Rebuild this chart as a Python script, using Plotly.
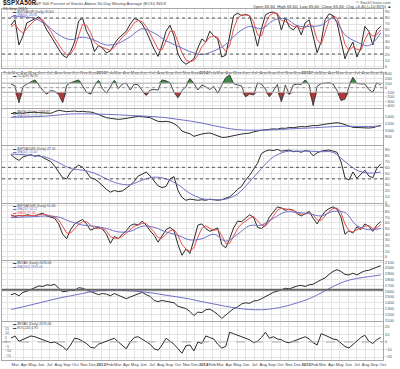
import plotly.graph_objects as go
import pandas as pd

# ---------------- data ----------------
N_POINTS = 94
DATES = pd.date_range("2012-02-15", "2015-09-24", periods=N_POINTS)
MA_DATES = DATES[::3]

# Panel 1: $SPXA50R with MAs
P1_BLACK = [68,77,35,50,72,75,78,82,
            74,60,50,38,28,18,14,24,40,75,
            80,58,46,24,34,30,22,25,37,46,
            52,58,70,79,77,70,58,42,28,16,
            35,58,68,50,20,8,3,7,12,30,
            45,40,58,50,45,15,18,50,84,88,
            84,86,84,60,33,62,85,89,90,86,
            60,80,65,60,68,52,72,77,50,22,
            40,77,87,84,72,42,12,28,40,15,
            30,66,58,35,60,66]
P1_RED = [65,70,60,55,62,70,76,79,
          77,68,58,46,36,26,19,20,30,52,
          70,68,56,40,34,31,28,26,31,40,
          48,54,62,72,76,74,66,54,40,28,
          27,42,58,58,40,22,10,7,9,18,
          32,40,48,50,48,34,24,34,62,80,
          85,85,84,74,52,50,70,84,88,88,
          76,74,70,66,65,62,64,70,66,44,
          36,56,76,84,80,62,36,26,32,28,
          26,44,56,50,52,60]
P1_BLUE = [82,82,79,68,52,44,48,43,35,38,49,62,55,42,33,24,19,25,36,55,66,62,76,79,67,66,68,80,52,40,34,55]

# Panel 2: CCI
P2_CCI = [80,40,-330,20,80,120,170,60,
          -60,-140,-60,-80,-150,-330,50,110,140,170,
          40,-100,-140,40,160,-20,-120,30,160,-20,
          80,100,-50,80,60,-60,-170,-50,-40,-50,
          170,150,110,-100,-220,-60,20,200,100,-50,
          60,20,-40,30,-120,50,220,280,90,60,
          40,-200,-140,-160,100,80,-30,-200,-60,70,
          -310,60,-150,60,80,70,170,60,-390,30,
          90,100,110,80,-60,-280,-250,20,230,90,
          80,80,-40,-100,110,60]

# Panel 3
P3_BLACK = [1510,1490,1520,1510,1530,1540,1545,1530,
            1520,1500,1510,1560,1600,1580,1560,1570,1580,1560,
            1570,1555,1550,1520,1470,1430,1380,1360,1340,1330,
            1340,1360,1380,1400,1420,1410,1390,1380,1320,1270,
            1260,1270,1250,1200,1120,980,930,900,820,860,
            890,910,920,880,830,790,790,820,850,880,
            890,905,915,955,985,1005,1015,1035,1045,1035,
            1065,1060,1085,1080,1100,1115,1105,1130,1145,1140,
            1170,1185,1200,1215,1230,1210,1180,1130,1090,1080,
            1070,1060,1070,1080,1110,1150]
P3_BLUE = [1390,1400,1410,1430,1460,1490,1495,1490,1480,1465,1445,1430,1410,1380,1330,1280,
           1220,1140,1070,1020,1005,1005,1015,1035,1055,1070,1090,1110,1125,1120,1115,1130]

# Panel 4
P4_BLACK = [82,76,72,78,80,82,79,81,
            77,74,70,62,52,42,40,52,58,64,
            60,52,42,40,35,28,22,17,20,18,
            19,24,29,36,45,48,52,45,37,28,
            25,27,40,44,20,8,3,5,4,3,
            4,3,5,4,3,4,6,9,15,22,
            27,38,46,56,67,84,88,90,89,91,
            88,89,90,87,88,86,89,88,80,85,
            88,89,90,88,86,70,42,38,52,41,
            48,55,45,42,58,66]
P4_BLUE = [83,82,80,77,68,58,55,50,40,32,30,38,43,40,30,15,6,4,5,14,35,58,78,87,88,88,87,86,70,55,50,52]

# Panel 5
P5_BLACK = [74,71,73,72,74,73,72,75,
            77,72,70,68,58,40,32,48,58,62,
            66,58,47,50,52,49,40,24,36,32,
            40,46,55,58,56,63,56,46,38,26,
            36,48,52,46,22,3,14,6,30,56,
            58,50,45,48,51,22,16,32,51,63,
            62,68,74,70,52,50,56,70,80,88,
            86,82,84,82,76,72,76,80,68,58,
            70,80,85,88,84,70,40,46,42,53,
            48,58,54,45,56,62]
P5_RED = [72,72,72,72,73,73,73,74,
          75,74,72,70,65,54,42,42,50,57,
          62,62,56,51,50,50,46,36,33,33,
          36,42,48,54,56,59,59,52,44,34,
          33,40,46,48,38,22,14,10,16,35,
          50,55,50,47,48,38,24,24,36,50,
          58,63,68,71,64,56,54,62,72,82,
          86,84,83,82,79,75,75,78,74,65,
          64,72,80,85,86,78,58,46,44,48,
          50,54,55,50,51,57]
P5_BLUE = [69,70,71,72,70,62,56,54,50,44,45,54,52,44,38,30,32,40,28,40,55,56,68,79,78,76,72,80,78,55,48,50]

# Panel 6
P6_BLACK = [1540,1560,1520,1580,1600,1630,1670,1690,
            1680,1710,1700,1720,1650,1590,1600,1620,1610,1660,
            1650,1620,1590,1560,1540,1560,1550,1520,1560,1530,
            1500,1470,1500,1530,1560,1580,1540,1510,1440,1420,
            1440,1430,1410,1400,1340,1320,1300,1250,1180,1240,
            1230,1280,1290,1250,1200,1130,1190,1250,1300,1330,
            1380,1400,1390,1430,1440,1470,1510,1540,1580,1600,
            1620,1650,1640,1670,1690,1700,1680,1710,1720,1760,
            1790,1830,1890,1940,1970,1940,1890,1880,1910,1880,
            1920,1950,1960,1990,2020,2040]
P6_BLUE = [1285,1330,1380,1430,1480,1520,1560,1600,1615,1615,1605,1590,1565,1530,1500,1465,
           1420,1380,1340,1305,1285,1280,1300,1340,1400,1470,1570,1680,1770,1820,1850,1880]
P6_LEVEL = 1625

# Panel 7
P7_ROC = [5,8,1,3,6,8,7,5,
          4,2,-1,0,-3,-6,-11,-4,5,4,
          1,-2,-7,-8,-3,-1,0,3,5,0,
          -5,-9,0,6,7,4,1,-3,-9,-11,
          -4,5,1,-3,-9,-15,-5,-4,-12,0,
          -2,8,6,4,-3,-8,-6,13,11,9,
          7,4,3,-1,1,6,13,5,7,4,
          3,0,-1,1,3,5,7,4,-1,-4,
          11,9,6,4,3,-1,-6,-8,-3,2,
          6,9,1,-2,3,6]

MONTHS = pd.date_range("2012-02-01", "2015-10-01", freq="MS")
MONTH_TEXT = [("<b>%d</b>" % d.year) if d.month == 1 else d.strftime("%b") for d in MONTHS]

# ---------------- layout helpers ----------------
H = 369
FONT = "Liberation Sans"
BLACK = "#2a2a2a"
RED = "#e8524f"
BLUE = "#7070c8"
GRID = "#e4e4e4"
BORDER = "#a8a8a8"

def dom(top_px, bot_px):
    return [(H - bot_px) / H, (H - top_px) / H]

panels = [
    dict(dom=dom(9, 68),    rng=[-3.3, 95],   ticks=list(range(0, 100, 10))),
    dict(dom=dom(73, 108),  rng=[-444, 322],  ticks=list(range(-400, 400, 100))),
    dict(dom=dom(109, 145), rng=[560, 1640],  ticks=[800, 1000, 1200, 1400]),
    dict(dom=dom(146, 203), rng=[-1.7, 96.9], ticks=list(range(0, 100, 10))),
    dict(dom=dom(203.5, 260), rng=[-5.3, 93.9], ticks=list(range(0, 100, 10))),
    dict(dom=dom(260.5, 321), rng=[1086, 2129], ticks=list(range(1100, 2200, 100))),
    dict(dom=dom(321.5, 360), rng=[-24, 27.3], ticks=[-20, -10, 0, 10, 20]),
]

fig = go.Figure()

def ln(x, y, k, color, width=1, shape="linear"):
    fig.add_trace(go.Scatter(x=x, y=y, mode="lines", xaxis="x%d" % k if k > 1 else "x",
                             yaxis="y%d" % k if k > 1 else "y", showlegend=False, hoverinfo="skip",
                             line=dict(color=color, width=width, shape=shape)))

# panel 1
ln(DATES, P1_BLACK, 1, BLACK)
ln(DATES, P1_RED, 1, RED)
ln(MA_DATES, P1_BLUE, 1, BLUE, shape="spline")

# panel 2 with fills beyond +/-100
hi = [max(v, 100) for v in P2_CCI]
lo = [min(v, -100) for v in P2_CCI]
fig.add_trace(go.Scatter(x=DATES, y=[100] * len(DATES), mode="lines", line=dict(width=0),
                         xaxis="x2", yaxis="y2", showlegend=False, hoverinfo="skip"))
fig.add_trace(go.Scatter(x=DATES, y=hi, mode="lines", line=dict(width=0), fill="tonexty",
                         fillcolor="#3d8a45", xaxis="x2", yaxis="y2", showlegend=False, hoverinfo="skip"))
fig.add_trace(go.Scatter(x=DATES, y=[-100] * len(DATES), mode="lines", line=dict(width=0),
                         xaxis="x2", yaxis="y2", showlegend=False, hoverinfo="skip"))
fig.add_trace(go.Scatter(x=DATES, y=lo, mode="lines", line=dict(width=0), fill="tonexty",
                         fillcolor="#b03a3a", xaxis="x2", yaxis="y2", showlegend=False, hoverinfo="skip"))
ln(DATES, P2_CCI, 2, "#444444")

# panel 3
ln(DATES, P3_BLACK, 3, BLACK)
ln(MA_DATES, P3_BLUE, 3, BLUE, shape="spline")

# panel 4
ln(DATES, P4_BLACK, 4, BLACK)
ln(MA_DATES, P4_BLUE, 4, BLUE, shape="spline")

# panel 5
ln(DATES, P5_BLACK, 5, BLACK)
ln(DATES, P5_RED, 5, RED)
ln(MA_DATES, P5_BLUE, 5, BLUE, shape="spline")

# panel 6
ln(DATES, P6_BLACK, 6, BLACK)
ln(MA_DATES, P6_BLUE, 6, BLUE, shape="spline")

# panel 7
ln(DATES, P7_ROC, 7, BLACK)

layout = dict(
    width=400, height=369,
    margin=dict(l=2, r=17, t=0, b=0, pad=0, autoexpand=False),
    paper_bgcolor="white", plot_bgcolor="white",
    font=dict(family=FONT, size=5, color="#444"),
    showlegend=False,
)

XRANGE = ["2012-01-14", "2015-10-02"]
for k, p in enumerate(panels, start=1):
    xa = "xaxis" if k == 1 else "xaxis%d" % k
    ya = "yaxis" if k == 1 else "yaxis%d" % k
    yname = "y" if k == 1 else "y%d" % k
    layout[xa] = dict(domain=[0, 1], anchor=yname, range=XRANGE, type="date",
                      tickmode="array", tickvals=list(MONTHS), ticktext=MONTH_TEXT,
                      showticklabels=(k in (1, 7)), tickfont=dict(size=4.2, color="#444"),
                      ticks="", ticklen=0, showgrid=True, gridcolor=GRID, gridwidth=1,
                      showline=True, linecolor=BORDER, linewidth=1, mirror=True, zeroline=False,
                      tickangle=0, automargin=False)
    if k > 1:
        layout[xa]["matches"] = "x"
    layout[ya] = dict(domain=p["dom"], anchor="x" if k == 1 else "x%d" % k, range=p["rng"],
                      side="right", tickmode="array", tickvals=p["ticks"],
                      tickfont=dict(size=4.2, color="#555"), ticks="", ticklen=0,
                      showgrid=True, gridcolor=GRID, gridwidth=1, zeroline=False,
                      showline=True, linecolor=BORDER, linewidth=1, mirror=True, automargin=False)

# left labels for bottom panel
layout["yaxis8"] = dict(domain=panels[6]["dom"], anchor="x7", overlaying="y7", side="left",
                        range=[-20, 22.8], tickmode="array", tickvals=[-15, -10, -5, 0, 5, 10, 15],
                        ticklabelposition="inside", tickfont=dict(size=3.6, color="#555"),
                        showgrid=False, zeroline=False, ticks="", showline=False, automargin=False)
fig.add_trace(go.Scatter(x=[DATES[0]], y=[0], mode="markers", marker=dict(size=0.1, opacity=0),
                         xaxis="x7", yaxis="y8", showlegend=False, hoverinfo="skip"))

fig.update_layout(**layout)

# reference lines
def hline(k, val, color, width=1, dash="dot"):
    fig.add_shape(type="line", xref=("x domain" if k == 1 else "x%d domain" % k), x0=0, x1=1,
                  yref=("y" if k == 1 else "y%d" % k), y0=val, y1=val,
                  line=dict(color=color, width=width, dash=dash))

hline(1, 80, "#555", 1, "dot")
hline(1, 20, "#555", 1, "dot")
hline(2, 100, "#b0b0b0", 1, "solid")
hline(2, -100, "#b0b0b0", 1, "solid")
hline(2, 0, "#999", 1, "dot")
hline(4, 60, "#555", 1, "dot")
hline(4, 40, "#555", 1, "dot")
hline(6, P6_LEVEL, "#666", 2, "solid")
hline(7, 0, "#aaa", 1, "dash")

# text
def txt(xpx, ypx, s, size=4.5, color="#333", anchor="left"):
    fig.add_annotation(xref="paper", yref="paper", x=(xpx - 2) / 381, y=(H - ypx) / H, text=s,
                       showarrow=False, xanchor=anchor, yanchor="middle", borderpad=0,
                       font=dict(family=FONT, size=size, color=color))

txt(2, 3, "<b>$SPXA50R</b>", 6.5, "#222")
txt(32, 3, "S&P 500 Percent of Stocks Above 50-Day Moving Average (EOD) INDX", 4.2, "#444")
txt(2, 8, "24-Sep-2015", 4.2, "#444")
txt(392, 2.5, "© StockCharts.com", 4, "#555", "right")
txt(392, 7, "Open 65.60  High 65.60  Low 65.60  Close 65.60  Chg +6.40 (+10.81%) ▲", 4.2, "#333", "right")

legends = [
    (11.5, "▬ $SPXA50R (Daily) 65.60", "#444"),
    (15, "▬ MA(50) 45.66", BLUE),
    (76, "▬ CCI(20) 90.92", "#444"),
    (112, "▬ $NYSI (Daily) 1149.97", "#444"),
    (115.5, "▬ MA(200) 1127.41", BLUE),
    (148.5, "▬ $SPXA200R (Daily) 47.20", "#444"),
    (152, "▬ MA(50) 51.40", BLUE),
    (205.5, "▬ $SPXA150R (Daily) 61.60", "#444"),
    (209, "▬ MA(20) 50.21", BLUE),
    (212.5, "▬ MA(5) 57.40", RED),
    (263, "▬ $NYAD (Daily) 2074.06", "#444"),
    (266.5, "▬ MA(200) 1893.04", BLUE),
    (324, "▬ $NYAD (Daily) 2074.06", "#444"),
    (327.5, "▬ ROC(20) 4.95", "#444"),
]
for ypx, s, c in legends:
    txt(12, ypx, s, 3.3, c)

fig.write_html("out.html", config={"displayModeBar": False},
               post_script="document.body.style.margin='0px';document.body.style.padding='0px';")
